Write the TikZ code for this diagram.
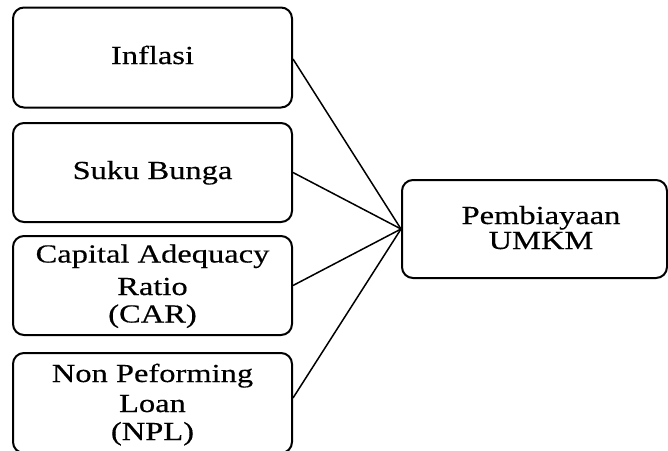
\documentclass[tikz,border=0pt]{standalone}
\usepackage{fontspec}
\setmainfont{Liberation Serif}[FakeStretch=1.25,FakeBold=0.4]
\begin{document}
\begin{tikzpicture}[x=1pt,y=-1pt,
  box/.style={draw=black,line width=2pt,rounded corners=11pt,inner sep=0pt},
  lbl/.style={anchor=base,inner sep=0pt,font=\fontsize{26}{30}\selectfont},
  conn/.style={draw=black,line width=1.5pt}]
\useasboundingbox (0,0) rectangle (668,450);
\fill[white] (0,0) rectangle (668,450);
\node[box,minimum width=279pt,minimum height=100pt] (b1) at (152.5,57.5) {};
\node[box,minimum width=279pt,minimum height=99pt] (b2) at (152.5,172.5) {};
\node[box,minimum width=279pt,minimum height=99pt] (b3) at (152.5,285.5) {};
\node[box,minimum width=279pt,minimum height=100pt] (b4) at (152.5,403) {};
\node[box,minimum width=265pt,minimum height=98pt] (r) at (534.5,229) {};
\node[lbl] (t1) at (152.5,64) {Inflasi};
\node[lbl] (t2) at (152.5,179) {Suku Bunga};
\node[lbl] (t3a) at (152.5,262.5) {Capital Adequacy};
\node[lbl] (t3b) at (152.5,295) {Ratio};
\node[lbl] (t3c) at (152.5,322.5) {(CAR)};
\node[lbl] (t4a) at (152.5,382) {Non Peforming};
\node[lbl] (t4b) at (152.5,412) {Loan};
\node[lbl] (t4c) at (152.5,440) {(NPL)};
\node[lbl] (ra) at (541,224) {Pembiayaan};
\node[lbl] (rb) at (541,249) {UMKM};
\draw[conn] ([yshift=-1.5pt]b1.east) -- (r.west);
\draw[conn] (b2.east) -- (r.west);
\draw[conn] (b3.east) -- (r.west);
\draw[conn] ([yshift=5pt]b4.east) -- (r.west);
\end{tikzpicture}
\end{document}
